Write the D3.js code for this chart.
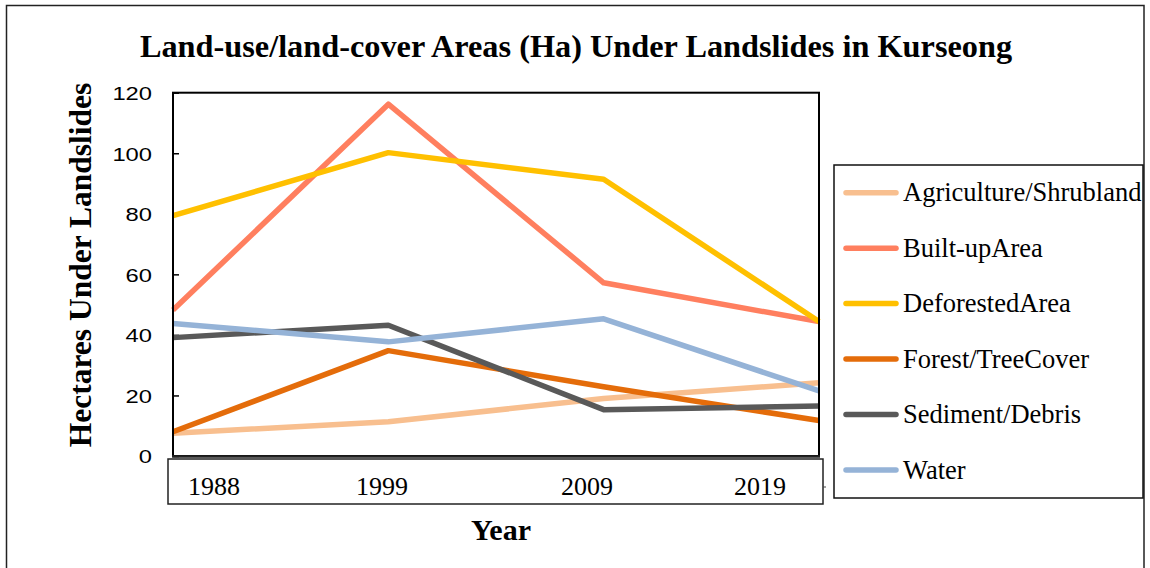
<!DOCTYPE html>
<html>
<head>
<meta charset="utf-8">
<script src="https://cdn.jsdelivr.net/npm/d3@7"></script>
<style>
  html, body { margin: 0; padding: 0; background: #fff; }
  svg { display: block; }
</style>
</head>
<body>
<svg id="chart" width="1150" height="568"></svg>
<script>
// Survey years on the category axis
const years = ["1988", "1999", "2009", "2019"];

// Land-use / land-cover classes (legend order)
const classes = [
  "Agriculture/Shrubland",
  "Built-upArea",
  "DeforestedArea",
  "Forest/TreeCover",
  "Sediment/Debris",
  "Water"
];

// Area under landslides (hectares) for each class, by year
const agriculture = [7.5, 11.3, 19.0, 24.2];
const builtUp     = [48.2, 116.2, 57.2, 44.4];
const deforested  = [79.4, 100.2, 91.4, 44.4];
const forest      = [8.0, 34.8, 22.9, 11.7];
const sediment    = [39.1, 43.2, 15.3, 16.5];
const water       = [43.8, 37.7, 45.3, 21.5];

// Y-axis tick values
const yTicks = [0, 20, 40, 60, 80, 100, 120];

const seriesValues = [agriculture, builtUp, deforested, forest, sediment, water];
const colors = ["#F8BF8F", "#FF7F5F", "#FFC000", "#E46C0A", "#595959", "#95B3D7"];

const series = classes.map((name, i) => ({
  name,
  color: colors[i],
  values: seriesValues[i].map((v, j) => ({ year: years[j], value: v }))
}));

const svg = d3.select("#chart");
const serif = "'Liberation Serif', 'Times New Roman', serif";
const sans = "'Liberation Sans', Arial, sans-serif";

// Outer frame
svg.append("rect")
  .attr("x", 6.5).attr("y", 5.5)
  .attr("width", 1137.5).attr("height", 580)
  .attr("fill", "none").attr("stroke", "#222").attr("stroke-width", 1.5);

// Title
svg.append("text")
  .attr("x", 576).attr("y", 57)
  .attr("text-anchor", "middle")
  .attr("font-family", serif).attr("font-weight", "bold").attr("font-size", 32.3)
  .text("Land-use/land-cover Areas (Ha) Under Landslides in Kurseong");

// Plot area
const plot = { left: 173, top: 92.7, right: 819, bottom: 456 };

const x = d3.scalePoint().domain(years).range([plot.left, plot.right]).padding(0);
const y = d3.scaleLinear().domain([0, 120]).range([plot.bottom, plot.top]);

// Y axis with inward ticks; labels drawn in a slightly wide sans face
const yAxis = svg.append("g")
  .attr("transform", `translate(${plot.left},0)`)
  .call(d3.axisLeft(y).tickValues(yTicks).tickSizeInner(-6).tickSizeOuter(0));
yAxis.select(".domain").remove();
yAxis.selectAll(".tick line").attr("stroke", "#000").attr("stroke-width", 1.5);
yAxis.selectAll(".tick text")
  .attr("x", 0)
  .attr("transform", "translate(-21,0) scale(1.25,1)")
  .attr("text-anchor", "end")
  .attr("font-family", sans).attr("font-size", 19).attr("fill", "#000")
  .attr("dy", "0.36em");

// Series lines
const line = d3.line()
  .x(d => x(d.year))
  .y(d => y(d.value));

svg.append("g").selectAll("path")
  .data(series)
  .join("path")
  .attr("d", d => line(d.values))
  .attr("fill", "none")
  .attr("stroke", d => d.color)
  .attr("stroke-width", 5.5)
  .attr("stroke-linejoin", "round")
  .attr("stroke-linecap", "butt");

// Plot border
svg.append("rect")
  .attr("x", plot.left).attr("y", plot.top)
  .attr("width", plot.right - plot.left).attr("height", plot.bottom - plot.top)
  .attr("fill", "none").attr("stroke", "#000").attr("stroke-width", 2);
svg.append("line")
  .attr("x1", plot.left - 1).attr("x2", plot.right + 1)
  .attr("y1", plot.bottom + 0.5).attr("y2", plot.bottom + 0.5)
  .attr("stroke", "#222").attr("stroke-width", 2.5);

// Category label strip below the plot
const strip = { left: 168, top: 459, right: 823, bottom: 504 };
svg.append("rect")
  .attr("x", strip.left).attr("y", strip.top)
  .attr("width", strip.right - strip.left).attr("height", strip.bottom - strip.top)
  .attr("fill", "none").attr("stroke", "#222").attr("stroke-width", 1.5);
svg.append("line")
  .attr("x1", strip.right).attr("x2", strip.right + 3)
  .attr("y1", 487).attr("y2", 487)
  .attr("stroke", "#444").attr("stroke-width", 1);

// Year labels sit inside the strip, inset from the plot edges
const labelX = d3.scalePoint().domain(years).range([plot.left + 41, plot.right - 59]);
const labelNudge = [0, -14, 9, 0];
svg.append("g").selectAll("text")
  .data(years)
  .join("text")
  .attr("x", (d, i) => labelX(d) + labelNudge[i])
  .attr("y", 495)
  .attr("text-anchor", "middle")
  .attr("font-family", serif).attr("font-size", 26)
  .text(d => d);

// Axis titles
svg.append("text")
  .attr("x", 501).attr("y", 540)
  .attr("text-anchor", "middle")
  .attr("font-family", serif).attr("font-weight", "bold").attr("font-size", 30)
  .text("Year");

svg.append("text")
  .attr("transform", "translate(91,265) rotate(-90)")
  .attr("text-anchor", "middle")
  .attr("font-family", serif).attr("font-weight", "bold").attr("font-size", 31.5)
  .text("Hectares Under Landslides");

// Legend
const legendBox = { left: 834, top: 165, right: 1143, bottom: 498 };
svg.append("rect")
  .attr("x", legendBox.left).attr("y", legendBox.top)
  .attr("width", legendBox.right - legendBox.left).attr("height", legendBox.bottom - legendBox.top)
  .attr("fill", "#fff").attr("stroke", "#111").attr("stroke-width", 1.5);

const legendY = d3.scalePoint().domain(classes).range([192.7, 470]);
const legend = svg.append("g").selectAll("g")
  .data(series)
  .join("g")
  .attr("transform", d => `translate(0,${legendY(d.name)})`);
legend.append("line")
  .attr("x1", 846).attr("x2", 896)
  .attr("stroke", d => d.color).attr("stroke-width", 5.5).attr("stroke-linecap", "round");
legend.append("text")
  .attr("x", 903).attr("dy", "0.33em")
  .attr("font-family", serif).attr("font-size", 26.5)
  .text(d => d.name);
</script>
</body>
</html>
